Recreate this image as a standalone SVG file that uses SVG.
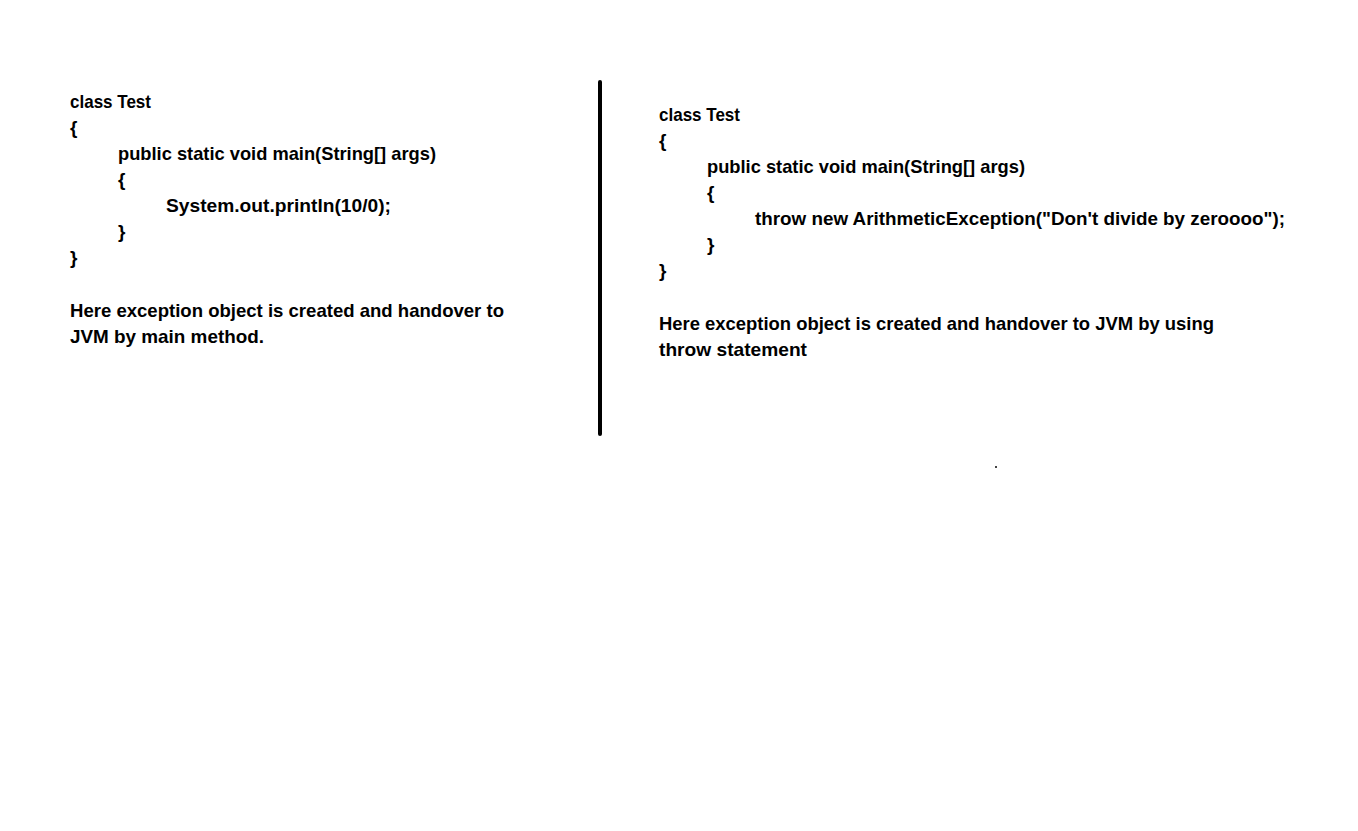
<svg xmlns="http://www.w3.org/2000/svg" width="1358" height="831" viewBox="0 0 1358 831">
<style>
.t{font-family:"Liberation Sans",Arial,sans-serif;font-weight:bold;font-size:19px;fill:#000}
</style>
<rect x="0" y="0" width="1358" height="831" fill="#fff"/>
<g id="left-code">
<text class="t" x="70" y="108" textLength="81" lengthAdjust="spacingAndGlyphs">class Test</text>
<text class="t" x="70" y="134">{</text>
<text class="t" x="118" y="160" textLength="318" lengthAdjust="spacingAndGlyphs">public static void main(String[] args)</text>
<text class="t" x="118" y="186">{</text>
<text class="t" x="166" y="212" textLength="225" lengthAdjust="spacingAndGlyphs">System.out.println(10/0);</text>
<text class="t" x="118" y="238">}</text>
<text class="t" x="70" y="264">}</text>
<text class="t" x="70" y="317" textLength="434" lengthAdjust="spacingAndGlyphs">Here exception object is created and handover to</text>
<text class="t" x="70" y="343" textLength="194" lengthAdjust="spacingAndGlyphs">JVM by main method.</text>
</g>
<g id="divider">
<rect x="598" y="80" width="4" height="356" rx="2" fill="#000"/>
</g>
<g id="right-code">
<text class="t" x="659" y="121" textLength="81" lengthAdjust="spacingAndGlyphs">class Test</text>
<text class="t" x="659" y="147">{</text>
<text class="t" x="707" y="173" textLength="318" lengthAdjust="spacingAndGlyphs">public static void main(String[] args)</text>
<text class="t" x="707" y="199">{</text>
<text class="t" x="755" y="225" textLength="530" lengthAdjust="spacingAndGlyphs">throw new ArithmeticException("Don't divide by zeroooo");</text>
<text class="t" x="707" y="251">}</text>
<text class="t" x="659" y="277">}</text>
<text class="t" x="659" y="330" textLength="555" lengthAdjust="spacingAndGlyphs">Here exception object is created and handover to JVM by using</text>
<text class="t" x="659" y="356" textLength="148" lengthAdjust="spacingAndGlyphs">throw statement</text>
</g>
<rect x="995" y="466" width="2" height="2" fill="#444"/>
</svg>
